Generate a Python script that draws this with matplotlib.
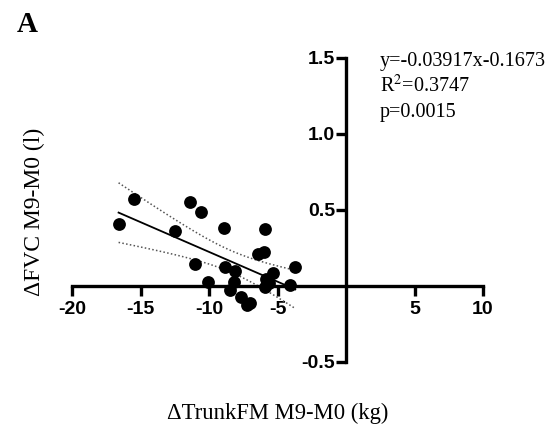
import numpy as np
import matplotlib
matplotlib.use("Agg")
import matplotlib.pyplot as plt

plt.rcParams["mathtext.fontset"] = "stix"

# data
trunk_fm = [-16.6, -15.5, -12.5, -11.4, -10.6, -11.0, -10.05, -8.9, -8.8, -8.1,
            -8.2, -8.5, -7.7, -7.25, -6.45, -5.98, -5.9, -5.35, -5.84, -5.9,
            -4.1, -3.7, -5.6, -7.0]
fvc = [0.406, 0.572, 0.364, 0.555, 0.485, 0.145, 0.028, 0.384, 0.123, 0.100,
       0.028, -0.026, -0.075, -0.125, 0.210, 0.226, 0.373, 0.083, 0.044, -0.005,
       0.007, 0.127, 0.020, -0.110]
slope, intercept = -0.03917, -0.1673
xticks = [-20, -15, -10, -5, 5, 10]
yticks = [-0.5, 0.5, 1.0, 1.5]
ytick_labels = ["-0.5", "0.5", "1.0", "1.5"]

x = np.array(trunk_fm)
y = np.array(fvc)
n = len(x)
t_crit = 2.074  # t(0.975, df=22)

fig = plt.figure(figsize=(5.51, 4.32), dpi=100)
ax = fig.add_axes([72/551, 70/432, 411/551, 304/432])
ax.set_xlim(-20, 10)
ax.set_ylim(-0.5, 1.5)

xs = np.linspace(x.min(), x.max(), 100)
yhat = slope * xs + intercept
resid = y - (slope * x + intercept)
s = np.sqrt(np.sum(resid**2) / (n - 2))
sxx = np.sum((x - x.mean())**2)
half = t_crit * s * np.sqrt(1/n + (xs - x.mean())**2 / sxx)

ax.scatter(x, y, s=85, color="black", zorder=3, linewidths=0)
ax.plot(xs, yhat, color="black", lw=1.3, zorder=2)
ax.plot(xs, yhat + half, color="#555555", lw=1.1, ls=(0, (1, 1.5)), zorder=2)
ax.plot(xs, yhat - half, color="#555555", lw=1.1, ls=(0, (1, 1.5)), zorder=2)

for side in ["top", "right"]:
    ax.spines[side].set_visible(False)
ax.spines["left"].set_position(("data", 0))
ax.spines["bottom"].set_position(("data", 0))
ax.spines["left"].set_linewidth(2.4)
ax.spines["bottom"].set_linewidth(2.4)
ax.spines["bottom"].set_bounds(-20, 10)
ax.spines["left"].set_bounds(-0.5, 1.5)

ax.set_xticks(xticks)
ax.set_xticklabels([str(v) for v in xticks])
ax.set_yticks(yticks)
ax.set_yticklabels(ytick_labels)
ax.tick_params(axis="both", direction="out", length=7, width=2.4)
ax.tick_params(axis="x", pad=4)
ax.tick_params(axis="y", pad=1)
for lab in ax.get_xticklabels() + ax.get_yticklabels():
    lab.set_fontfamily("Liberation Sans")
    lab.set_fontweight("bold")
    lab.set_fontsize(14)

fig.text(34/551, 1 - 212/432, "ΔFVC M9-M0 (l)", rotation=90, ha="center", va="center",
         fontfamily="Liberation Serif", fontsize=17)
fig.text(278/551, 1 - 413/432, "ΔTrunkFM M9-M0 (kg)", ha="center", va="center",
         fontfamily="Liberation Serif", fontsize=16.3)
fig.text(27/551, 1 - 24/432, "A", ha="center", va="center",
         fontfamily="Liberation Serif", fontsize=21, fontweight="bold")

ax.text(380/551, 1 - 66/432, "y=-0.03917x-0.1673", transform=fig.transFigure,
        ha="left", va="baseline", fontfamily="Liberation Serif", fontsize=14.5)
ax.text(380/551, 1 - 92/432, "R$^{2}$=0.3747", transform=fig.transFigure,
        ha="left", va="baseline", fontfamily="Liberation Serif", fontsize=14.5)
ax.text(380/551, 1 - 117/432, "p=0.0015", transform=fig.transFigure,
        ha="left", va="baseline", fontfamily="Liberation Serif", fontsize=14.5)

fig.savefig("out.png", dpi=100, facecolor="white")
